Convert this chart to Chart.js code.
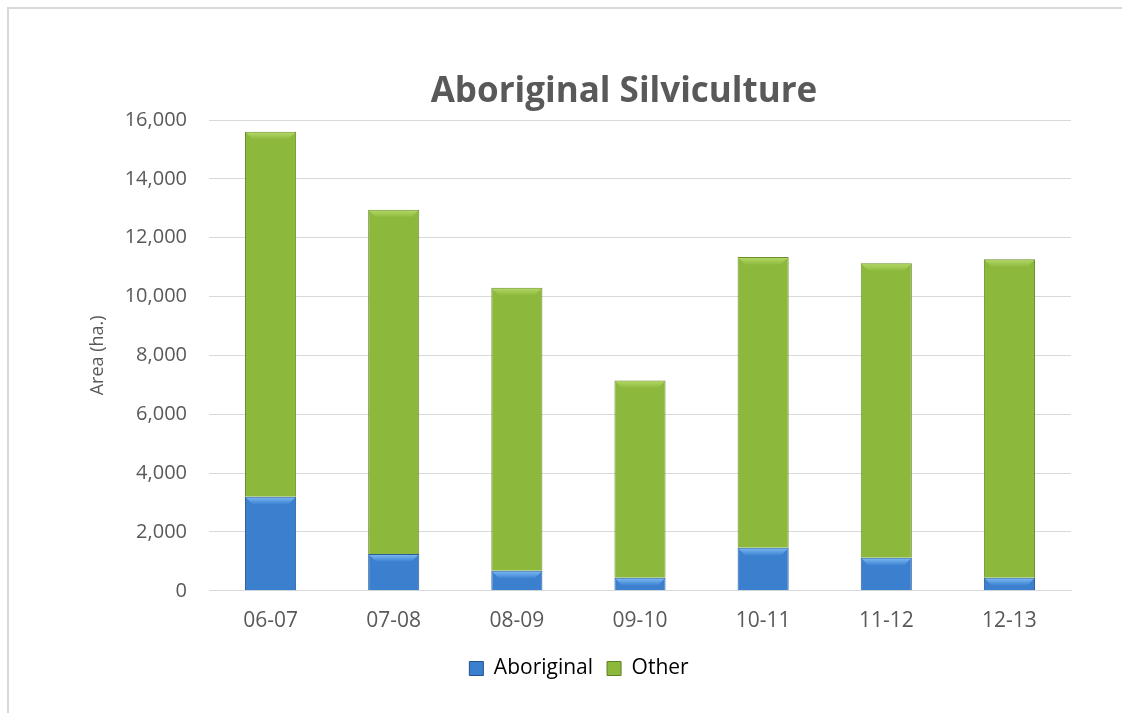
<!DOCTYPE html>
<html>
<head>
<meta charset="utf-8">
<script src="https://cdn.jsdelivr.net/npm/chart.js@4.4.1/dist/chart.umd.min.js"></script>
<style>
  html, body { margin: 0; padding: 0; background: #fff; }
  #ramka {
    position: absolute; left: 7px; top: 7px; width: 1115px; height: 706px;
    border-top: 2px solid #d9d9d9; border-left: 2px solid #d9d9d9;
  }
  #ramka canvas { display: block; }
</style>
</head>
<body>
<div id="ramka"><canvas id="wykres"></canvas></div>
<script>
const lata = ['06-07', '07-08', '08-09', '09-10', '10-11', '11-12', '12-13'];
const aborygenskie = [3200, 1250, 680, 440, 1460, 1120, 440];
const pozostale = [12400, 11700, 9620, 6710, 9880, 10010, 10830];
const ticksY = [0, 2000, 4000, 6000, 8000, 10000, 12000, 14000, 16000];
const tytul = 'Aboriginal Silviculture';

const czcionka = "'Open Sans', 'Noto Sans', sans-serif";

// gradient poziomy udajacy skos krawedzi slupka
function gradientSlupka(ctx, jasny, srodek, ciemny) {
    const chart = ctx.chart;
    const el = ctx.element;
    if (!chart.chartArea || !el || el.width === undefined) return srodek;
    const x0 = el.x - el.width / 2, x1 = el.x + el.width / 2;
    const g = chart.ctx.createLinearGradient(x0, 0, x1, 0);
    g.addColorStop(0, ciemny);
    g.addColorStop(0.08, srodek);
    g.addColorStop(0.5, jasny);
    g.addColorStop(0.92, srodek);
    g.addColorStop(1, ciemny);
    return g;
}

const krawedzPlugin = {
    id: 'gornaKrawedz',
    afterDatasetsDraw(chart) {
        const c = chart.ctx;
        chart.data.datasets.forEach((ds, i) => {
            const meta = chart.getDatasetMeta(i);
            const jasna = i === 0 ? '#7fbcf5' : '#b5da6a';
            const tlo = i === 0 ? '#3a80cf' : '#8cb83c';
            meta.data.forEach(bar => {
                const x0 = bar.x - bar.width / 2;
                const g = c.createLinearGradient(0, bar.y, 0, bar.y + 8);
                g.addColorStop(0, jasna);
                g.addColorStop(1, tlo);
                c.save();
                c.fillStyle = g;
                c.beginPath();
                c.moveTo(x0 + 1, bar.y + 1);
                c.lineTo(x0 + bar.width - 1, bar.y + 1);
                c.lineTo(x0 + bar.width - 8, bar.y + 8);
                c.lineTo(x0 + 8, bar.y + 8);
                c.closePath();
                c.fill();
                c.restore();
            });
        });
    }
};

// tytul przesuniety nieco w prawo, jak w oryginale
const tytulPlugin = {
    id: 'tytulWykresu',
    afterDraw(chart) {
        const c = chart.ctx;
        c.save();
        c.fillStyle = '#595959';
        c.font = `bold 35px ${czcionka}`;
        c.textAlign = 'center';
        c.textBaseline = 'middle';
        const x = (chart.chartArea.left + chart.chartArea.right) / 2 - 16;
        const y = chart.chartArea.top - 28;
        c.fillText(tytul, x, y);
        c.restore();
    }
};

const ctx = document.getElementById('wykres').getContext('2d');
document.getElementById('wykres').width = 1113;
document.getElementById('wykres').height = 704;

new Chart(ctx, {
    type: 'bar',
    data: {
        labels: lata,
        datasets: [
            {
                label: 'Aboriginal',
                data: aborygenskie,
                backgroundColor: c => gradientSlupka(c, '#4a93e0', '#3a80cf', '#24528a'),
                borderColor: '#2a5d9a',
                borderWidth: 1,
                categoryPercentage: 1,
                barPercentage: 0.415
            },
            {
                label: 'Other',
                data: pozostale,
                backgroundColor: c => gradientSlupka(c, '#9bc948', '#8cb83c', '#5e7f22'),
                borderColor: '#6b8d2a',
                borderWidth: 1,
                categoryPercentage: 1,
                barPercentage: 0.415
            }
        ]
    },
    options: {
        responsive: false,
        animation: false,
        layout: { padding: { left: 78, right: 51, top: 0, bottom: 24 } },
        plugins: {
            title: {
                display: true,
                text: tytul,
                color: 'rgba(0,0,0,0)',
                font: { family: czcionka, size: 35, weight: 'bold' },
                padding: { top: 63, bottom: 6 }
            },
            legend: {
                position: 'bottom',
                labels: {
                    color: '#595959',
                    font: { family: czcionka, size: 21 },
                    boxWidth: 14, boxHeight: 14,
                    padding: 14,
                    generateLabels: ch => ch.data.datasets.map((ds, i) => ({
                        text: ds.label,
                        fillStyle: i === 0 ? '#3a80cf' : '#8cb83c',
                        strokeStyle: i === 0 ? '#24528a' : '#5e7f22',
                        lineWidth: 1,
                        datasetIndex: i
                    }))
                }
            },
            tooltip: { enabled: false }
        },
        scales: {
            x: {
                stacked: true,
                grid: { display: false },
                border: { color: '#d9d9d9', width: 1 },
                ticks: { color: '#595959', font: { family: czcionka, size: 21 }, padding: 10 }
            },
            y: {
                stacked: true,
                min: 0, max: 16000,
                afterBuildTicks: os => { os.ticks = ticksY.map(v => ({ value: v })); },
                afterFit: os => { os.width = 122; },
                grid: { color: '#d9d9d9', drawTicks: false },
                border: { display: false },
                ticks: {
                    color: '#595959',
                    font: { family: czcionka, size: 20 },
                    padding: 22,
                    callback: v => v.toLocaleString('en-US')
                },
                title: {
                    display: true,
                    text: 'Area (ha.)',
                    color: '#595959',
                    font: { family: czcionka, size: 18 },
                    padding: 0
                }
            }
        }
    },
    plugins: [krawedzPlugin, tytulPlugin]
});
</script>
</body>
</html>
